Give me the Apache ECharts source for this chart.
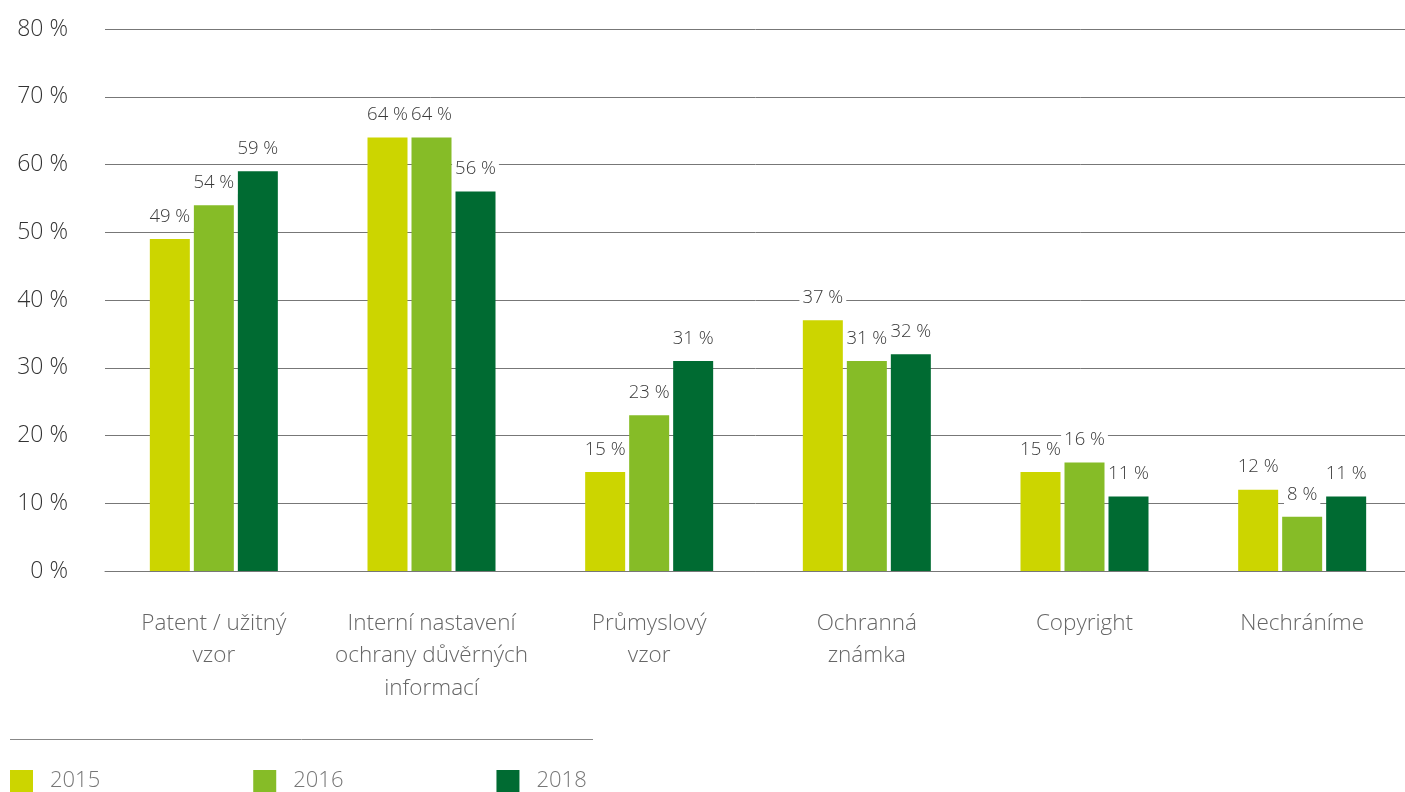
<!DOCTYPE html>
<html>
<head>
<meta charset="utf-8">
<script src="https://cdn.jsdelivr.net/npm/echarts@6/dist/echarts.min.js"></script>
<style>
  html, body { margin: 0; padding: 0; background: #fff; }
  #chart { width: 1405px; height: 792px; }
</style>
</head>
<body>
<div id="chart"></div>
<script>
// data
var categories = ['Patent / užitný\nvzor', 'Interní nastavení\nochrany důvěrných\ninformací', 'Průmyslový\nvzor', 'Ochranná\nznámka', 'Copyright', 'Nechráníme']
var years = ['2015', '2016', '2018']
var values2015 = [49, 64, 14.6, 37, 14.6, 12]
var values2016 = [54, 64, 23, 31, 16, 8]
var values2018 = [59, 56, 31, 32, 11, 11]
var colors = ['#ccd500', '#86bc27', '#006b32']

var font = '"Open Sans", sans-serif'

function barSeries(name, data, color) {
  return {
    name: name,
    type: 'bar',
    data: data,
    barWidth: 40,
    barGap: '10%',
    itemStyle: { color: color },
    label: {
      show: true,
      position: 'top',
      distance: 11,
      formatter: function (p) { return Math.round(p.value) + ' %' },
      color: '#3a3a3a',
      fontFamily: font,
      fontWeight: 300,
      fontSize: 18.5,
      backgroundColor: '#fff',
      padding: [2, 3]
    }
  }
}

var chart = echarts.init(document.getElementById('chart'))
chart.setOption({
  animation: false,
  color: colors,
  grid: { left: 105, right: -6, top: 29, bottom: 221, outerBoundsMode: 'none', containLabel: false },
  legend: {
    left: 10,
    top: 770,
    padding: 0,
    itemWidth: 23,
    itemHeight: 22,
    itemGap: 153,
    icon: 'rect',
    textStyle: { color: '#777', fontFamily: font, fontWeight: 300, fontSize: 22, padding: [0, 0, 0, 12] },
    data: years
  },
  graphic: [{
    type: 'line',
    shape: { x1: 10, y1: 739.5, x2: 593, y2: 739.5 },
    style: { stroke: '#888', lineWidth: 1 }
  }],
  xAxis: {
    type: 'category',
    data: categories,
    axisTick: { show: false },
    axisLine: { lineStyle: { color: '#777', width: 1 } },
    axisLabel: {
      interval: 0,
      margin: 36,
      color: '#666',
      fontFamily: font,
      fontWeight: 300,
      fontSize: 22.5,
      lineHeight: 32.5
    }
  },
  yAxis: {
    type: 'value',
    min: 0,
    max: 80,
    interval: 10,
    axisLine: { show: false },
    axisTick: { show: false },
    splitLine: { lineStyle: { color: '#777', width: 1 } },
    axisLabel: {
      align: 'right',
      margin: 37,
      verticalAlign: 'middle',
      padding: [0, 0, 10, 0],
      color: '#333',
      fontFamily: font,
      fontWeight: 300,
      fontSize: 23,
      formatter: '{value} %'
    }
  },
  series: [
    barSeries(years[0], values2015, colors[0]),
    barSeries(years[1], values2016, colors[1]),
    barSeries(years[2], values2018, colors[2])
  ]
})
</script>
</body>
</html>
